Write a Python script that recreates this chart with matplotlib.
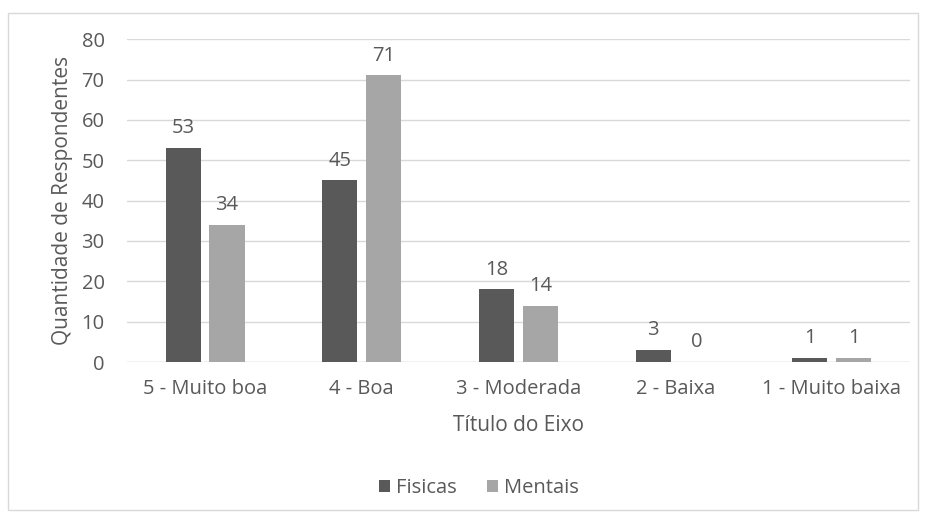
import matplotlib.pyplot as plt
import numpy as np
from matplotlib.patches import Rectangle

# Respondent counts by rated quality
categories = ['5 - Muito boa', '4 - Boa', '3 - Moderada', '2 - Baixa', '1 - Muito baixa']
fisicas = [53, 45, 18, 3, 1]
mentais = [34, 71, 14, 0, 1]
yticks = [0, 10, 20, 30, 40, 50, 60, 70, 80]

plt.rcParams['font.family'] = ['Open Sans', 'DejaVu Sans']
text_color = '#595959'

fig = plt.figure(figsize=(9.25, 5.15), dpi=100)
ax = fig.add_axes([0.137, 0.297, 0.847, 0.627])

# outer chart border
fig.patches.append(Rectangle((0.009, 0.01), 0.983, 0.965, transform=fig.transFigure,
                             fill=False, edgecolor='#d9d9d9', linewidth=1))

x = np.arange(len(categories))
w = 0.224
b1 = ax.bar(x - 0.14, fisicas, w, color='#595959', label='Fisicas', zorder=3)
b2 = ax.bar(x + 0.14, mentais, w, color='#a6a6a6', label='Mentais', zorder=3)

for bars in (b1, b2):
    ax.bar_label(bars, padding=7, fontsize=14.5, color=text_color)

ax.set_xlim(-0.5, len(categories) - 0.5)
ax.set_ylim(0, 80)
ax.set_yticks(yticks)
ax.set_xticks(x)
ax.set_xticklabels(categories)
ax.tick_params(axis='both', length=0, labelsize=14.5, labelcolor=text_color)
ax.tick_params(axis='y', pad=16)
ax.tick_params(axis='x', pad=12)
ax.grid(axis='y', color='#d9d9d9', linewidth=1, zorder=0)
for s in ax.spines.values():
    s.set_visible(False)
ax.axhline(0, color='#d9d9d9', linewidth=1, zorder=2)

ax.set_ylabel('Quantidade de Respondentes', fontsize=15, color=text_color, labelpad=6)
ax.set_xlabel('Título do Eixo', fontsize=15, color=text_color, labelpad=12)

fig.legend(loc='center', bbox_to_anchor=(0.518, 0.052), ncol=2, frameon=False,
           fontsize=14.5, labelcolor=text_color, handlelength=0.55, handleheight=0.55,
           handletextpad=0.3, columnspacing=1.5)

fig.savefig('out.png', dpi=100)
